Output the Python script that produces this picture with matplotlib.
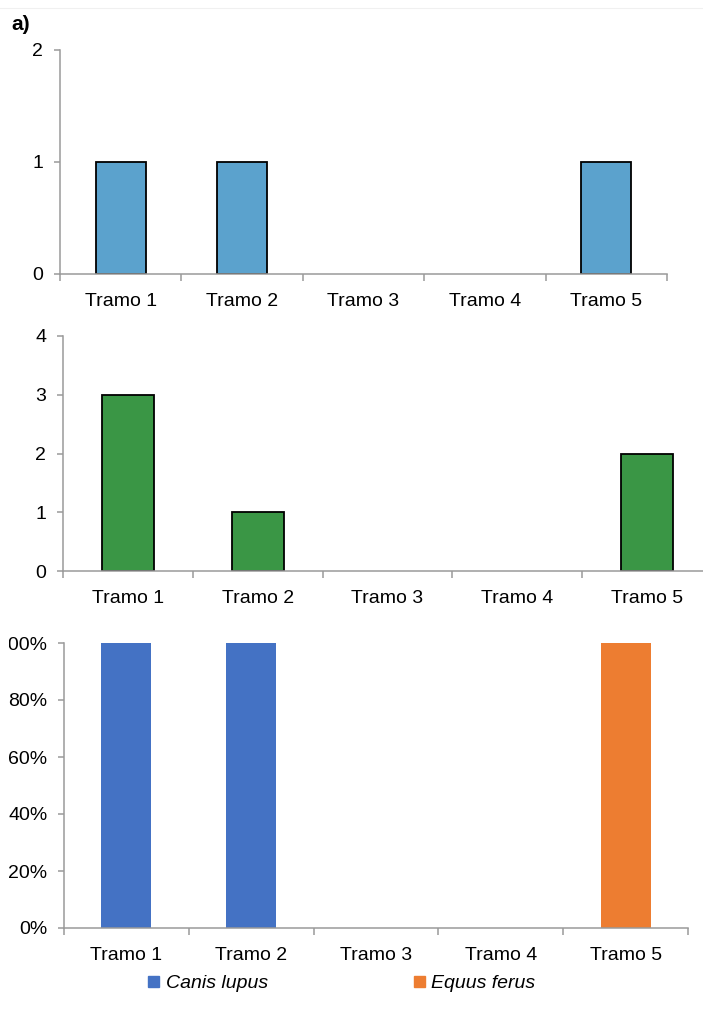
import matplotlib
matplotlib.use("Agg")
import matplotlib.pyplot as plt
from matplotlib.patches import Patch
from matplotlib.transforms import Bbox, TransformedBbox
import numpy as np

plt.rcParams['font.family'] = ['Liberation Sans', 'DejaVu Sans']

tramos = ['Tramo 1', 'Tramo 2', 'Tramo 3', 'Tramo 4', 'Tramo 5']
panel_a = [1, 1, 0, 0, 1]
panel_b = [3, 1, 0, 0, 2]
canis_lupus = [1, 1, 0, 0, 0]
equus_ferus = [0, 0, 0, 0, 1]

W, H = 703, 1017
fig = plt.figure(figsize=(W / 100, H / 100), dpi=100)

axis_col = '#9a9a9a'
fs = 14


def add_ax(left, right, top, bottom):
    # pixel box -> figure fraction
    return fig.add_axes([left / W, 1 - bottom / H, (right - left) / W, (bottom - top) / H])


def style(ax, ymax, yticks):
    x = np.arange(len(tramos))
    ax.set_xlim(-0.5, len(tramos) - 0.5)
    ax.set_ylim(0, ymax)
    ax.set_yticks(yticks)
    ax.set_xticks(x)
    ax.set_xticklabels(tramos, fontsize=fs)
    ax.set_xticks(np.arange(-0.5, len(tramos)), minor=True)
    ax.tick_params(axis='x', which='major', length=0, pad=14)
    ax.tick_params(axis='x', which='minor', length=5, width=1.1, color=axis_col, direction='out')
    ax.tick_params(axis='y', length=4, width=1.1, color=axis_col, pad=8, labelsize=fs)
    for s in ['top', 'right']:
        ax.spines[s].set_visible(False)
    for s in ['left', 'bottom']:
        ax.spines[s].set_color(axis_col)
        ax.spines[s].set_linewidth(1.1)


def no_zero_edges(bars):
    for b in bars:
        if b.get_height() == 0:
            b.set_linewidth(0)


# panel a (top)
ax1 = add_ax(60, 667, 50, 274)
x = np.arange(len(tramos))
b1 = ax1.bar(x, panel_a, width=0.41, color='#5ba2cd', edgecolor='black', linewidth=1.3)
no_zero_edges(b1)
style(ax1, 2, [0, 1, 2])

# panel b (middle)
ax2 = add_ax(63, 712, 336, 571)
b2 = ax2.bar(x, panel_b, width=0.4, color='#3a9645', edgecolor='black', linewidth=1.3)
no_zero_edges(b2)
style(ax2, 4, [0, 1, 2, 3, 4])

# panel c (bottom) - 100% stacked
ax3 = add_ax(64, 688, 643, 928)
tot = np.array(canis_lupus) + np.array(equus_ferus)
safe = np.where(tot > 0, tot, 1)
p_canis = np.array(canis_lupus) / safe * 100
p_equus = np.array(equus_ferus) / safe * 100
ax3.bar(x, p_canis, width=0.4, color='#4472c4')
ax3.bar(x, p_equus, width=0.4, bottom=p_canis, color='#ed7d31')
style(ax3, 100, [0, 20, 40, 60, 80, 100])
ax3.set_yticklabels(['0%', '20%', '40%', '60%', '80%', '100%'])

# the top label is cut at the image's left edge in the original
clip = TransformedBbox(Bbox([[9 / W, 0], [1, 1]]), fig.transFigure)
for t in ax3.yaxis.get_major_ticks():
    t.label1.set_clip_box(clip)
    t.label1.set_clip_on(True)

handles = [Patch(color='#4472c4'), Patch(color='#ed7d31')]
fig.legend(handles, ['Canis lupus', 'Equus ferus'], loc='center',
           bbox_to_anchor=(342 / W, 1 - 984 / H), ncol=2, frameon=False,
           prop={'size': fs, 'style': 'italic'}, handlelength=0.55, handleheight=0.55,
           handletextpad=0.35, columnspacing=7.5)

fig.text(11 / W, 1 - 25 / H, 'a)', fontsize=15, fontweight='bold', va='center', ha='left')
fig.add_artist(plt.Line2D([0, 1], [1 - 8 / H, 1 - 8 / H], color='#f0f0f0', linewidth=0.8))

fig.savefig('out.png', dpi=100)
